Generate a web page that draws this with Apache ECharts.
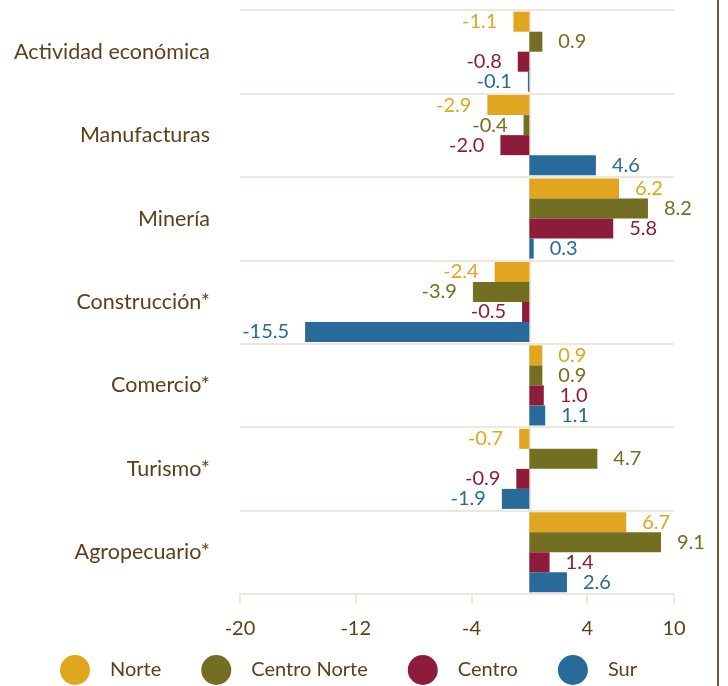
<!DOCTYPE html>
<html>
<head>
<meta charset="utf-8">
<script src="https://cdn.jsdelivr.net/npm/echarts@6/dist/echarts.min.js"></script>
<style>
html,body{margin:0;padding:0;background:#fff;}
#chart{width:728px;height:686px;}
</style>
</head>
<body>
<div id="chart"></div>
<script>
var categories = ['Actividad económica','Manufacturas','Minería','Construcción*','Comercio*','Turismo*','Agropecuario*'];
var seriesNames = ['Norte','Centro Norte','Centro','Sur'];
var norte = [-1.1, -2.9, 6.2, -2.4, 0.9, -0.7, 6.7];
var centroNorte = [0.9, -0.4, 8.2, -3.9, 0.9, 4.7, 9.1];
var centro = [-0.8, -2.0, 5.8, -0.5, 1.0, -0.9, 1.4];
var sur = [-0.1, 4.6, 0.3, -15.5, 1.1, -1.9, 2.6];
var colors = ['#E1A620','#726F22','#8D1C3B','#286A9A'];
var FONT = 'Lato';
var TXT = '#5E4018';

var allData = [norte, centroNorte, centro, sur];
var series = allData.map(function(arr, i){
  return {
    name: seriesNames[i],
    type: 'bar',
    barGap: '0%',
    barCategoryGap: '4%',
    barMinWidth: 1,
    itemStyle: {color: colors[i]},
    label: {
      show: true,
      position: 'outside',
      distance: 16,
      color: colors[i],
      fontFamily: FONT,
      fontSize: 20,
      formatter: function(p){ return p.value.toFixed(1); }
    },
    data: arr.map(function(v){ return {value: v, label: {position: v < 0 ? 'left' : 'right'}}; })
  };
});

var chart = echarts.init(document.getElementById('chart'), null, {renderer:'canvas'});
chart.setOption({
  animation: false,
  color: colors,
  grid: {left: 240, right: 54, top: 10, bottom: 92, containLabel: false},
  xAxis: {
    type: 'value', min: -20, max: 10, interval: 8,
    axisLine: {show: true, lineStyle: {color: '#EEE7DB', width: 2}},
    axisTick: {show: true, length: 10, lineStyle: {color: '#EEE7DB', width: 2}},
    splitLine: {show: false},
    axisLabel: {color: TXT, fontFamily: FONT, fontSize: 20, margin: 25}
  },
  yAxis: {
    type: 'category', data: categories, inverse: true,
    axisLine: {show: true, lineStyle: {color: '#EEE7DB', width: 2}},
    axisTick: {show: true, length: 9, lineStyle: {color: '#EEE7DB', width: 2}},
    splitLine: {show: true, lineStyle: {color: '#EEE7DB', width: 2}},
    axisLabel: {color: TXT, fontFamily: FONT, fontSize: 21.5, margin: 30}
  },
  legend: {
    show: true, left: 55, top: 650, icon: 'circle',
    itemWidth: 30, itemHeight: 30, itemGap: 40,
    textStyle: {color: TXT, fontFamily: FONT, fontSize: 20, padding: [0,0,0,15]},
    data: seriesNames
  },
  graphic: [{
    type: 'line', shape: {x1: 718, y1: 0, x2: 718, y2: 686},
    style: {stroke: '#7A5A2C', lineWidth: 2}
  }],
  series: series
});
</script>
</body>
</html>
